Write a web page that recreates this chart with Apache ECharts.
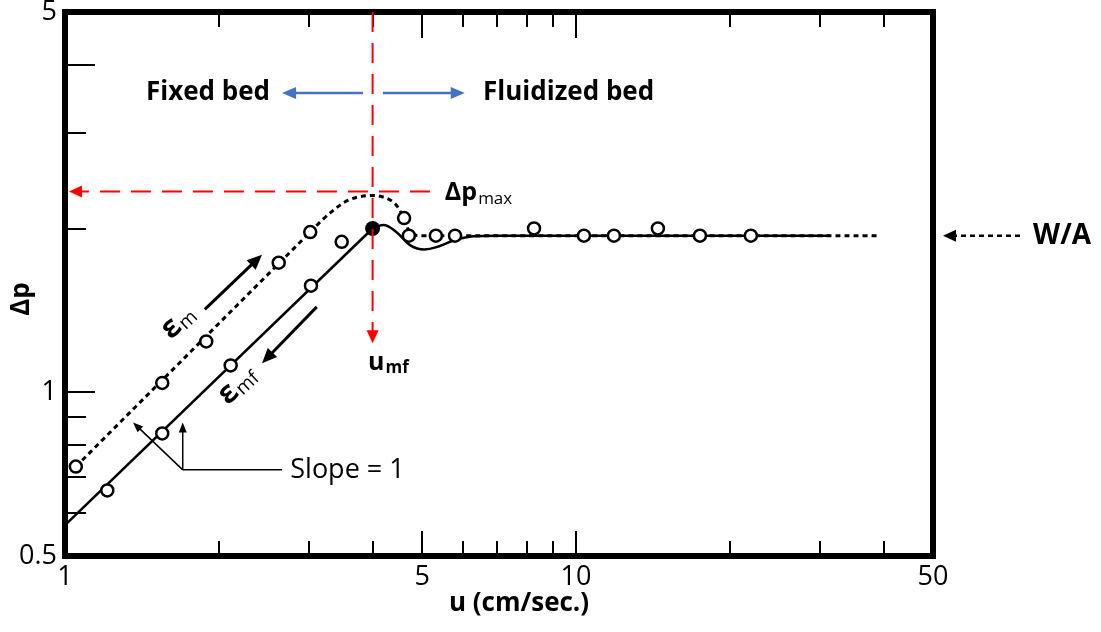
<!DOCTYPE html>
<html><head><meta charset="utf-8">
<script src="https://cdn.jsdelivr.net/npm/echarts@6/dist/echarts.min.js"></script>
<style>html,body{margin:0;padding:0;background:#fff}#c{width:1101px;height:632px}</style>
</head><body><div id="c"></div>
<script>
const FONT = '"Open Sans"';
// axis ticks / labels
const xLabelValues = [1, 5, 10, 50];
const xMinorTicks = [2, 3, 4, 6, 7, 8, 9, 20, 30, 40];
const xMajorTicks = [5, 10];
const yLabelValues = [0.5, 1, 5];
const yShortTicks = [0.6, 0.7, 0.8, 0.9, 2, 3];
const yLongTicks = [1, 4];

// measured points (open circles)
const risingU  = [1.05, 1.55, 1.89, 2.62, 3.02, 4.61];
const risingP  = [0.73, 1.04, 1.24, 1.73, 1.97, 2.09];
const fallingU = [1.21, 1.55, 2.11, 3.03, 3.48];
const fallingP = [0.66, 0.84, 1.12, 1.57, 1.89];
const plateauU = [4.71, 5.32, 5.80, 8.28, 10.37, 11.87, 14.47, 17.49, 22.0];
const plateauP = [1.94, 1.94, 1.94, 2.00, 1.94, 1.94, 2.00, 1.94, 1.94];
// minimum fluidization point (filled)
const umfU = [4.0];
const umfP = [2.0];

// ε_m curve (dashed): straight part then curved part
const emLineU  = [1.05, 3.02];
const emLineP  = [0.73, 1.97];
const emCurveU = [3.02, 3.30, 3.61, 4.0, 4.38, 4.61, 4.75, 5.0, 5.5, 38.8];
const emCurveP = [1.97, 2.135, 2.26, 2.30, 2.24, 2.09, 1.96, 1.94, 1.94, 1.94];
// ε_mf curve (solid)
const emfLineU  = [1.0, 4.0];
const emfLineP  = [0.57, 2.0];
const emfCurveU = [4.0, 4.2, 4.45, 4.75, 5.05, 5.4, 5.8, 6.3, 7.0, 31.4];
const emfCurveP = [2.0, 2.03, 1.97, 1.86, 1.83, 1.855, 1.905, 1.935, 1.94, 1.94];

const DP_MAX = 2.34;
const U_MF = 4.0;

const zip = (a, b) => a.map((v, i) => [v, b[i]]);
const fmt = v => String(+(+v).toFixed(3));

const chart = echarts.init(document.getElementById('c'));

const tickStyle = { color: '#000', width: 2 };
const labelStyle = labels => labels
  ? { show: true, customValues: labels, formatter: fmt, fontSize: 27, fontFamily: FONT, color: '#000', margin: 8, showMinLabel: true, showMaxLabel: true }
  : { show: false };
function xAx(pos, ticks, len, labels, extra) {
  return Object.assign({
    type: 'log', logBase: 10, min: 1, max: 50, position: pos,
    axisLine: { show: false },
    axisTick: { show: true, inside: true, length: len, customValues: ticks, lineStyle: tickStyle },
    axisLabel: labelStyle(labels),
    splitLine: { show: false }, minorTick: { show: false }
  }, extra || {});
}
function yAx(ticks, len, labels, extra) {
  return Object.assign({
    type: 'log', logBase: 10, min: 0.5, max: 5, position: 'left',
    axisLine: { show: false },
    axisTick: { show: true, inside: true, length: len, customValues: ticks, lineStyle: tickStyle },
    axisLabel: labelStyle(labels),
    splitLine: { show: false }, minorTick: { show: false }
  }, extra || {});
}
const nameStyle = { fontFamily: FONT, fontWeight: 'bold', fontSize: 26, color: '#000' };

const option = {
  animation: false,
  backgroundColor: '#fff',
  grid: { left: 65, right: 168, top: 12, bottom: 76, show: true, borderColor: '#000', borderWidth: 6, backgroundColor: 'transparent', containLabel: false, outerBoundsMode: 'none' },
  xAxis: [
    xAx('bottom', xMinorTicks, 15, xLabelValues, { name: 'u (cm/sec.)', nameLocation: 'middle', nameGap: 35, nameMoveOverlap: false, nameTextStyle: Object.assign({ padding: [0, 0, 0, 40] }, nameStyle) }),
    xAx('bottom', xMajorTicks, 25, null),
    xAx('top', xMinorTicks, 15, null),
    xAx('top', xMajorTicks, 26, null)
  ],
  yAxis: [
    yAx(yShortTicks, 21, yLabelValues, { name: 'Δp', nameLocation: 'middle', nameGap: 30, nameRotate: 90, nameMoveOverlap: false, nameTextStyle: Object.assign({ padding: [0, 30, 0, 0] }, nameStyle) }),
    yAx(yLongTicks, 30, null)
  ],
  series: [
    { type: 'line', data: zip(emLineU, emLineP), showSymbol: false, symbol: 'none', lineStyle: { color: '#000', width: 3, type: [5, 4] }, z: 3 },
    { type: 'line', data: zip(emCurveU, emCurveP), smooth: 0.35, showSymbol: false, symbol: 'none', lineStyle: { color: '#000', width: 3, type: [5, 4] }, z: 3 },
    { type: 'line', data: zip(emfLineU, emfLineP), showSymbol: false, symbol: 'none', lineStyle: { color: '#000', width: 2.5 }, z: 3 },
    { type: 'line', data: zip(emfCurveU, emfCurveP), smooth: 0.4, showSymbol: false, symbol: 'none', lineStyle: { color: '#000', width: 2.5 }, z: 3 },
    { type: 'scatter', data: zip(risingU, risingP).concat(zip(fallingU, fallingP), zip(plateauU, plateauP)), symbol: 'circle', symbolSize: 12,
      itemStyle: { color: '#fff', borderColor: '#000', borderWidth: 2.5, opacity: 1 }, z: 5 },
    { type: 'scatter', data: zip(umfU, umfP), symbol: 'circle', symbolSize: 15, itemStyle: { color: '#000', opacity: 1 }, z: 5 }
  ]
};
chart.setOption(option);

const px = (u, p) => chart.convertToPixel({ seriesIndex: 0 }, [u, p]);
const mctx = document.createElement('canvas').getContext('2d');
const measure = (t, font) => { mctx.font = font; return mctx.measureText(t).width; };

function arrow(a, b, o) {
  const p1 = px(a[0], a[1]), p2 = px(b[0], b[1]);
  const dx = p2[0] - p1[0], dy = p2[1] - p1[1], L = Math.hypot(dx, dy), ux = dx / L, uy = dy / L;
  const hl = o.head || 12, hw = o.headW || 5;
  const bx = p2[0] - ux * hl, by = p2[1] - uy * hl;
  return [
    { type: 'line', silent: true, z: o.z || 10, shape: { x1: p1[0], y1: p1[1], x2: bx + ux, y2: by + uy },
      style: { stroke: o.color, lineWidth: o.width, lineDash: o.dash || null } },
    { type: 'polygon', silent: true, z: o.z || 10, shape: { points: [[p2[0], p2[1]], [bx - uy * hw, by + ux * hw], [bx + uy * hw, by - ux * hw]] },
      style: { fill: o.color } }
  ];
}
function seg(a, b, o) {
  const p1 = px(a[0], a[1]), p2 = px(b[0], b[1]);
  return { type: 'line', silent: true, z: o.z || 10, shape: { x1: p1[0], y1: p1[1], x2: p2[0], y2: p2[1] },
    style: { stroke: o.color, lineWidth: o.width, lineDash: o.dash || null } };
}
function text(at, t, o) {
  const p = px(at[0], at[1]);
  return { type: 'text', silent: true, z: 20, x: p[0], y: p[1],
    style: { text: t, fill: o.color || '#000', font: o.font, align: o.align || 'left', verticalAlign: 'middle' } };
}
function subText(at, main, sub, mainFont, subFont, dy, color, rotation) {
  const p = px(at[0], at[1]);
  const w = measure(main, mainFont);
  return { type: 'group', x: p[0], y: p[1], rotation: rotation || 0, silent: true, z: 20, children: [
    { type: 'text', x: 0, y: 0, style: { text: main, font: mainFont, fill: color || '#000', align: 'left', verticalAlign: 'middle' } },
    { type: 'text', x: w + 1, y: dy, style: { text: sub, font: subFont, fill: color || '#000', align: 'left', verticalAlign: 'middle' } }
  ] };
}

const BOLD = 'bold 26px ' + FONT;
const RED = '#FF0000', BLUE = '#4472C4';
const g = [];
// red guide lines
g.push(...arrow([U_MF, 5], [U_MF, 1.23], { color: RED, width: 2, dash: [20, 11], head: 13, headW: 6, z: 12 }));
g.push(...arrow([5.18, DP_MAX], [1.018, DP_MAX], { color: RED, width: 2, dash: [20, 11], head: 13, headW: 6, z: 12 }));
// blue region arrows
g.push(...arrow([3.83, 3.55], [2.66, 3.55], { color: BLUE, width: 2.5, head: 14, headW: 6 }));
g.push(...arrow([4.19, 3.55], [6.06, 3.55], { color: BLUE, width: 2.5, head: 14, headW: 6 }));
g.push(text([2.52, 3.55], 'Fixed bed', { font: BOLD, align: 'right' }));
g.push(text([6.58, 3.55], 'Fluidized bed', { font: BOLD }));
// direction arrows
g.push(...arrow([1.878, 1.42], [2.43, 1.79], { color: '#000', width: 3, head: 15, headW: 6.5 }));
g.push(...arrow([3.11, 1.435], [2.43, 1.13], { color: '#000', width: 3, head: 15, headW: 6.5 }));
g.push(subText([1.57, 1.28], 'ε', 'm', 'bold 30px ' + FONT, '19px ' + FONT, 6, '#000', 0.75));
g.push(subText([2.03, 0.97], 'ε', 'mf', 'bold 30px ' + FONT, '19px ' + FONT, 6, '#000', 0.75));
// slope = 1 annotation
g.push(seg([1.70, 0.72], [2.66, 0.72], { color: '#000', width: 1.5 }));
g.push(...arrow([1.70, 0.72], [1.359, 0.88], { color: '#000', width: 1.5, head: 10, headW: 4 }));
g.push(...arrow([1.70, 0.72], [1.70, 0.88], { color: '#000', width: 1.5, head: 10, headW: 4 }));
g.push(text([2.76, 0.72], 'Slope = 1', { font: '27px ' + FONT }));
// labels
g.push(subText([5.54, 2.33], 'Δp', 'max', 'bold 25px ' + FONT, '17px ' + FONT, 7));
g.push(subText([3.92, 1.13], 'u', 'mf', 'bold 25px ' + FONT, 'bold 17px ' + FONT, 5));
// W/A
g.push(...arrow([74.0, 1.94], [52.3, 1.94], { color: '#000', width: 2.5, dash: [5, 4], head: 13, headW: 6 }));
g.push(text([78.5, 1.94], 'W/A', { font: 'bold 28px ' + FONT }));

chart.setOption({ graphic: { elements: g } });
</script>
</body></html>
